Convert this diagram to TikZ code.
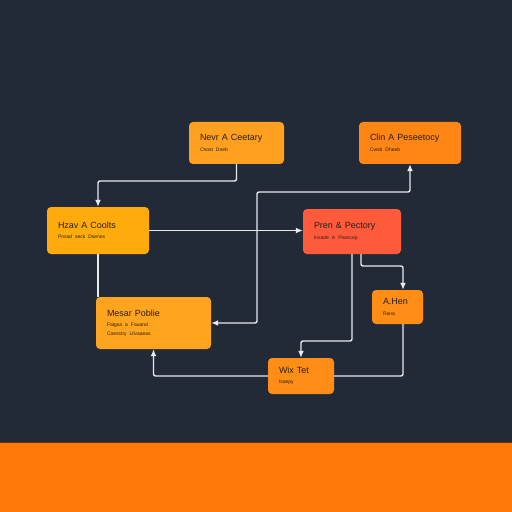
\documentclass[tikz,border=0pt]{standalone}
\usepackage{fontspec}
\setmainfont{Liberation Sans}
\usetikzlibrary{arrows.meta}
\definecolor{bg}{HTML}{232A37}
\definecolor{band}{HTML}{FF790A}
\definecolor{wire}{HTML}{E9EAEE}
\definecolor{txt}{HTML}{2A1F14}
\definecolor{amber}{HTML}{FFA020}
\definecolor{tangerine}{HTML}{FF8614}
\definecolor{gold}{HTML}{FFAB0C}
\definecolor{coral}{HTML}{FF5A3C}
\definecolor{apricot}{HTML}{FFA41E}
\definecolor{pumpkin}{HTML}{FF8D16}
\newcommand\subline{\fontsize{5}{6}\selectfont}
\begin{document}
\begin{tikzpicture}[x=1bp,y=-1bp,
  box/.style={rounded corners=4bp,align=left,inner xsep=11bp,inner ysep=0pt,
    text=txt,font=\fontsize{9}{10.5}\selectfont},
  flow/.style={draw=wire,line width=1.4bp,rounded corners=2bp,
    -{Latex[length=7bp,width=6bp]}}]
  \useasboundingbox (0,0) rectangle (512,512);
  \fill[bg] (0,0) rectangle (512,512);
  \fill[band] (0,442) rectangle (512,512);
  \draw[black!60!band,line width=1bp] (0,442) -- (512,442);
  \draw
    (236.5,143) node[box,fill=amber,minimum height=42bp,text width=73bp] (nevr)
      {Nevr A Ceetary\\{\subline Chost Doeb}}
    (410,143) node[box,fill=tangerine,minimum height=42bp,text width=80bp] (clin)
      {Clin A Peseetocy\\{\subline Cwsb Dheeb}}
    (98,230.5) node[box,fill=gold,minimum height=47bp,text width=80bp] (hzav)
      {Hzav A Coolts\\{\subline Pnsad seck Dsenos}}
    (352,231.5) node[box,fill=coral,minimum height=45bp,text width=76bp] (pren)
      {Pren \& Pectory\\{\subline Insade A Pnescep}}
    (153.5,323) node[box,fill=apricot,minimum height=52bp,text width=93bp] (mesar)
      {Mesar Poblie\\{\subline Fatgsa a Fauand}\\[-2bp]{\subline Coesstry Lilvaaeas}}
    (397.5,307) node[box,fill=pumpkin,minimum height=34bp,text width=29bp] (ahen)
      {A.Hen\\{\subline Rana}}
    (301,376) node[box,fill=pumpkin,minimum height=36bp,text width=44bp] (wix)
      {Wix Tet\\{\subline tsaepy}};
  \begin{scope}[flow]
    \draw (nevr.south) |- (98,181) -- (hzav.north);
    \draw (hzav.east) -- (hzav.east -| pren.west);
    \draw[-] (hzav.south) -- (mesar.north -| hzav.south);
    \draw[<->,>={Latex[length=7bp,width=6bp]}] (mesar.east) -- (257,323) |- (410,192) -- (clin.south);
    \draw (pren.south) |- (301,341) -- (wix.north);
    \draw ([xshift=9bp]pren.south) |- (403,266) -- ([xshift=5.5bp]ahen.north);
    \draw[-] ([xshift=5.5bp]ahen.south) |- (wix.east);
    \draw (wix.west) -| (mesar.south);
  \end{scope}
\end{tikzpicture}
\end{document}
